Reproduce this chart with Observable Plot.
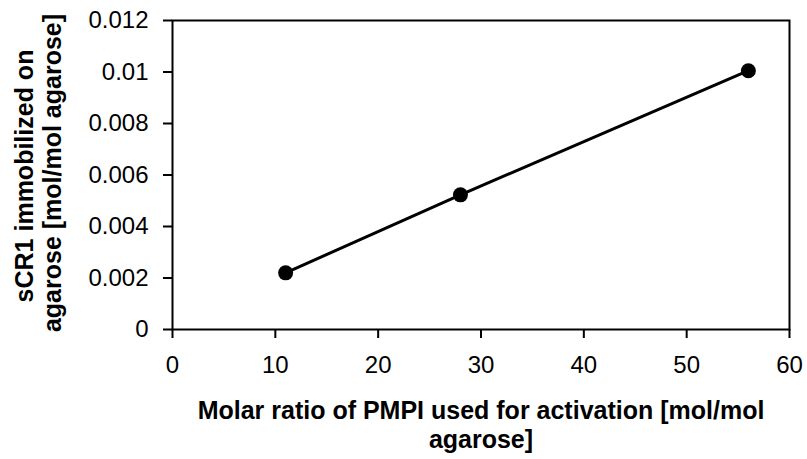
<!DOCTYPE html>
<html>
<head>
<meta charset="utf-8">
<script src="https://cdn.jsdelivr.net/npm/d3@7"></script>
<script src="https://cdn.jsdelivr.net/npm/@observablehq/plot@0.6"></script>
<style>
  html, body { margin: 0; padding: 0; background: #fff; }
  #chart { width: 807px; height: 459px; }
</style>
</head>
<body>
<div id="chart"></div>
<script>
const pmpiRatio = [11, 28, 56];
const sCR1Immobilized = [0.0022, 0.00523, 0.01005];
const xTicks = [0, 10, 20, 30, 40, 50, 60];
const yTicks = [0, 0.002, 0.004, 0.006, 0.008, 0.01, 0.012];
const xTitleLines = ["Molar ratio of PMPI used for activation [mol/mol", "agarose]"];
const yTitleLines = ["sCR1 immobilized on", "agarose [mol/mol agarose]"];

const data = pmpiRatio.map((x, i) => ({x, y: sCR1Immobilized[i]}));

const chart = Plot.plot({
  width: 807,
  height: 459,
  marginLeft: 172,
  marginRight: 18,
  marginTop: 20,
  marginBottom: 130,
  style: {fontFamily: "'Liberation Sans', Arial, sans-serif", fontSize: "24px", color: "#000", background: "#fff"},
  x: {domain: [0, 60]},
  y: {domain: [0, 0.012]},
  marks: [
    Plot.frame({stroke: "#000", strokeWidth: 2}),
    Plot.axisX({ticks: xTicks, tickSize: 9, tickPadding: 17, strokeWidth: 2, label: null, tickFormat: d => String(d)}),
    Plot.axisY({ticks: yTicks, tickSize: 9, tickPadding: 15, strokeWidth: 2, label: null, tickFormat: d => String(d)}),
    Plot.line(data, {x: "x", y: "y", stroke: "#000", strokeWidth: 3}),
    Plot.dot(data, {x: "x", y: "y", r: 7.5, fill: "#000", stroke: "none"}),
    Plot.text([xTitleLines[0]], {text: d => d, frameAnchor: "bottom", dy: 81, fontSize: 25, fontWeight: "bold", lineAnchor: "middle", textAnchor: "middle", fill: "#000"}),
    Plot.text([xTitleLines[1]], {text: d => d, frameAnchor: "bottom", dy: 110, fontSize: 25, fontWeight: "bold", lineAnchor: "middle", textAnchor: "middle", fill: "#000"}),
    Plot.text([yTitleLines[0]], {text: d => d, frameAnchor: "left", dx: -148, dy: 1, rotate: -90, fontSize: 25, fontWeight: "bold", lineAnchor: "middle", textAnchor: "middle", fill: "#000"}),
    Plot.text([yTitleLines[1]], {text: d => d, frameAnchor: "left", dx: -120, dy: -2, rotate: -90, fontSize: 25, fontWeight: "bold", lineAnchor: "middle", textAnchor: "middle", fill: "#000"})
  ]
});
document.getElementById("chart").appendChild(chart);
</script>
</body>
</html>
